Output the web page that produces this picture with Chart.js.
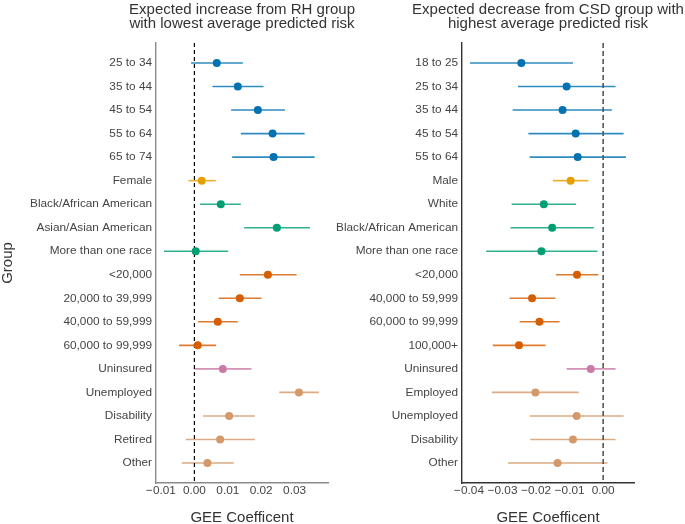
<!DOCTYPE html>
<html>
<head>
<meta charset="utf-8">
<script src="https://cdn.jsdelivr.net/npm/chart.js@4.4.0/dist/chart.umd.min.js"></script>
<style>
  body { margin: 0; background: #ffffff; }
  #leftBox { position: absolute; left: 0; top: 0; width: 365px; height: 524px; }
  #rightBox { position: absolute; left: 335px; top: 0; width: 350px; height: 524px; }
</style>
</head>
<body>
<div id="leftBox"><canvas id="leftChart"></canvas></div>
<div id="rightBox"><canvas id="rightChart"></canvas></div>
<script>
// left panel: expected increase from RH group
const leftLabels = ["25 to 34", "35 to 44", "45 to 54", "55 to 64", "65 to 74", "Female",
    "Black/African American", "Asian/Asian American", "More than one race",
    "<20,000", "20,000 to 39,999", "40,000 to 59,999", "60,000 to 99,999",
    "Uninsured", "Unemployed", "Disability", "Retired", "Other"];
const leftEst = [0.0067, 0.0130, 0.0190, 0.0234, 0.0237, 0.0022, 0.0079, 0.0247, 0.0004,
    0.0220, 0.0136, 0.0070, 0.0010, 0.0085, 0.0313, 0.0104, 0.0077, 0.0039];
const leftLow = [-0.0010, 0.0054, 0.0110, 0.0139, 0.0113, -0.0018, 0.0017, 0.0149, -0.0091,
    0.0136, 0.0073, 0.0011, -0.0046, 0.0000, 0.0254, 0.0026, -0.0026, -0.0038];
const leftHigh = [0.0145, 0.0207, 0.0271, 0.0330, 0.0360, 0.0064, 0.0139, 0.0346, 0.0101,
    0.0306, 0.0201, 0.0130, 0.0065, 0.0171, 0.0373, 0.0181, 0.0181, 0.0118];
const leftGroup = ["age", "age", "age", "age", "age", "sex", "race", "race", "race",
    "income", "income", "income", "income", "insurance",
    "employment", "employment", "employment", "employment"];
const leftTicks = [-0.01, 0, 0.01, 0.02, 0.03];

// right panel: expected decrease from CSD group
const rightLabels = ["18 to 25", "25 to 34", "35 to 44", "45 to 54", "55 to 64", "Male",
    "White", "Black/African American", "More than one race",
    "<20,000", "40,000 to 59,999", "60,000 to 99,999", "100,000+",
    "Uninsured", "Employed", "Unemployed", "Disability", "Other"];
const rightEst = [-0.0244, -0.0109, -0.0121, -0.0082, -0.0076, -0.0097, -0.0177, -0.0152, -0.0184,
    -0.0078, -0.0212, -0.0190, -0.0251, -0.0037, -0.0202, -0.0079, -0.0090, -0.0136];
const rightLow = [-0.0397, -0.0254, -0.0270, -0.0223, -0.0219, -0.0150, -0.0273, -0.0276, -0.0349,
    -0.0141, -0.0279, -0.0249, -0.0329, -0.0109, -0.0332, -0.0219, -0.0217, -0.0284];
const rightHigh = [-0.0090, 0.0037, 0.0026, 0.0061, 0.0068, -0.0044, -0.0081, -0.0028, -0.0017,
    -0.0014, -0.0142, -0.0130, -0.0172, 0.0037, -0.0073, 0.0061, 0.0037, 0.0013];
const rightGroup = leftGroup;
const rightTicks = [-0.04, -0.03, -0.02, -0.01, 0];

const groupColors = {
    age: "#0072B2",
    sex: "#E69F00",
    race: "#009E73",
    income: "#D55E00",
    insurance: "#CC79A7",
    employment: "#D4996A"
};

const FONT = "'Liberation Sans', Arial, sans-serif";
Chart.defaults.font.family = FONT;
Chart.defaults.color = "#333333";

// panel title centred over the plot area (may run wider than the plot)
const panelTitle = {
    id: "panelTitle",
    afterDraw(chart, args, opts) {
        const ctx = chart.ctx;
        const area = chart.chartArea;
        const cx = (area.left + area.right) / 2;
        ctx.save();
        ctx.font = "15px " + FONT;
        ctx.fillStyle = "#333333";
        ctx.textAlign = "center";
        ctx.textBaseline = "alphabetic";
        opts.lines.forEach((t, i) => ctx.fillText(t, cx, 13.5 + i * 14));
        ctx.restore();
    }
};

function fmt(v) {
    return (v < 0 ? "\u2212" : "") + Math.abs(v).toFixed(2);
}

function buildChart(canvasId, cfg) {
    const n = cfg.labels.length;
    const yMin = -0.85;
    const yMax = n - 1 + 0.85;
    const datasets = [];

    // confidence intervals
    for (let i = 0; i < n; i++) {
        datasets.push({
            data: [{ x: cfg.low[i], y: i }, { x: cfg.high[i], y: i }],
            showLine: true,
            borderColor: groupColors[cfg.group[i]] + "D0",
            borderWidth: 1.6,
            pointRadius: 0,
            order: 3
        });
    }

    // zero line
    datasets.push({
        data: [{ x: 0, y: yMin }, { x: 0, y: yMax }],
        showLine: true,
        borderColor: cfg.zeroColor,
        borderWidth: cfg.zeroWidth,
        borderDash: cfg.zeroDash,
        pointRadius: 0,
        order: 2
    });

    // point estimates
    datasets.push({
        data: cfg.est.map((v, i) => ({ x: v, y: i })),
        pointRadius: 4,
        pointBorderWidth: 0,
        pointBackgroundColor: cfg.group.map(g => groupColors[g]),
        order: 1
    });

    return new Chart(document.getElementById(canvasId), {
        type: "scatter",
        data: { datasets: datasets },
        plugins: [panelTitle],
        options: {
            responsive: true,
            maintainAspectRatio: false,
            animation: false,
            layout: { padding: { left: 0, right: cfg.padRight, top: 43, bottom: 0 } },
            plugins: {
                legend: { display: false },
                tooltip: { enabled: false },
                title: { display: false },
                panelTitle: { lines: cfg.title }
            },
            scales: {
                x: {
                    type: "linear",
                    min: cfg.xMin,
                    max: cfg.xMax,
                    afterBuildTicks: s => { s.ticks = cfg.ticks.map(v => ({ value: v })); },
                    afterFit: s => { s.height = 41; },
                    grid: { display: false, drawTicks: false },
                    border: { display: true, color: cfg.axisColor, width: 1.4 },
                    ticks: {
                        padding: 1,
                        color: "#444444",
                        font: { size: 11.8 },
                        callback: v => fmt(v)
                    },
                    title: {
                        display: true,
                        text: "GEE Coefficent",
                        color: "#333333",
                        font: { size: 15, lineHeight: 0.8 },
                        padding: { top: 0, bottom: 0 }
                    }
                },
                y: {
                    type: "linear",
                    reverse: true,
                    min: yMin,
                    max: yMax,
                    afterBuildTicks: s => { s.ticks = cfg.labels.map((_, i) => ({ value: i })); },
                    afterFit: s => { s.width = cfg.yWidth; },
                    grid: { display: false, drawTicks: false },
                    border: { display: true, color: cfg.axisColor, width: 1.4 },
                    ticks: {
                        padding: 4,
                        autoSkip: false,
                        color: "#444444",
                        font: { size: 11.8 },
                        callback: v => cfg.labels[v]
                    },
                    title: {
                        display: cfg.yTitle,
                        text: "Group",
                        color: "#333333",
                        font: { size: 15, lineHeight: 1 },
                        padding: { top: 0, bottom: 0 }
                    }
                }
            }
        }
    });
}

buildChart("leftChart", {
    labels: leftLabels, est: leftEst, low: leftLow, high: leftHigh, group: leftGroup,
    ticks: leftTicks, xMin: -0.0115, xMax: 0.0400,
    title: ["Expected increase from RH group", "with lowest average predicted risk"],
    yWidth: 156, padRight: 37, yTitle: true,
    axisColor: "#8a8a8a", zeroColor: "#000000", zeroWidth: 1.2, zeroDash: [4, 3]
});

buildChart("rightChart", {
    labels: rightLabels, est: rightEst, low: rightLow, high: rightHigh, group: rightGroup,
    ticks: rightTicks, xMin: -0.0421, xMax: 0.0092,
    title: ["Expected decrease from CSD group with", "highest average predicted risk"],
    yWidth: 127, padRight: 51, yTitle: false,
    axisColor: "#333333", zeroColor: "#555555", zeroWidth: 1.6, zeroDash: [5, 3]
});
</script>
</body>
</html>
